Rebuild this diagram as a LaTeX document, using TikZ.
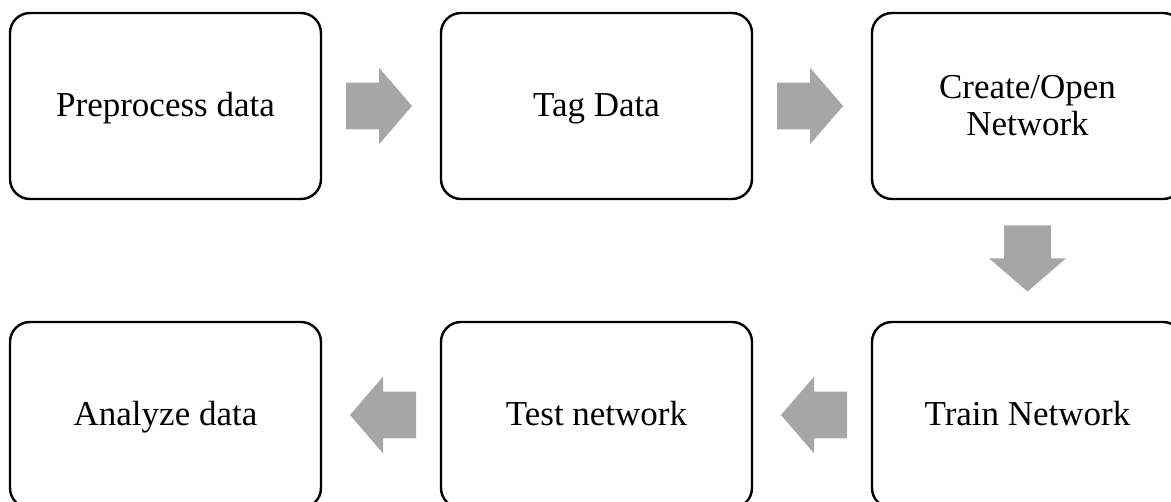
\documentclass[tikz,border=0pt]{standalone}
\usepackage{fontspec}
\setmainfont{Liberation Serif}
\usetikzlibrary{calc}
\definecolor{arrowgray}{RGB}{166,166,166}
\tikzset{
  stepbox/.style={draw=black, line width=2.4pt, rounded corners=20pt, fill=white,
    minimum width=311pt, minimum height=186pt, inner sep=0pt, align=center,
    font=\fontsize{35}{37}\selectfont},
  oneline/.style={text height=26pt, text depth=4.6pt},
  blockarrow/.pic={\fill[arrowgray] (-33,-23.3) -- (0,-23.3) -- (0,-38.3) -- (33,0) -- (0,38.3) -- (0,23.3) -- (-33,23.3) -- cycle;}
}
\begin{document}
\begin{tikzpicture}[x=1pt,y=-1pt]
\useasboundingbox (0,0) rectangle (1171,502);
\clip (0,0) rectangle (1171,502);
\node[stepbox,oneline] (n1) at (165.5,106) {Preprocess data};
\node[stepbox,oneline] (n2) at (596.5,106) {Tag Data};
\node[stepbox] (n3) at (1027.5,106) {Create/Open\\Network};
\node[stepbox,oneline] (n4) at (1027.5,415) {Train Network};
\node[stepbox,oneline] (n5) at (596.5,415) {Test network};
\node[stepbox,oneline] (n6) at (165.5,415) {Analyze data};
\coordinate (a1) at ($(n1.east)!0.5!(n2.west)+(-2,0)$);
\coordinate (a2) at ($(n2.east)!0.5!(n3.west)+(-2,0)$);
\coordinate (a3) at ($(n3.south)!0.5!(n4.north)+(0,-2)$);
\coordinate (a4) at ($(n4.west)!0.5!(n5.east)+(2,0)$);
\coordinate (a5) at ($(n5.west)!0.5!(n6.east)+(2,0)$);
\pic at (a1) {blockarrow};
\pic at (a2) {blockarrow};
\pic[rotate=-90] at (a3) {blockarrow};
\pic[rotate=180] at (a4) {blockarrow};
\pic[rotate=180] at (a5) {blockarrow};
\end{tikzpicture}
\end{document}
